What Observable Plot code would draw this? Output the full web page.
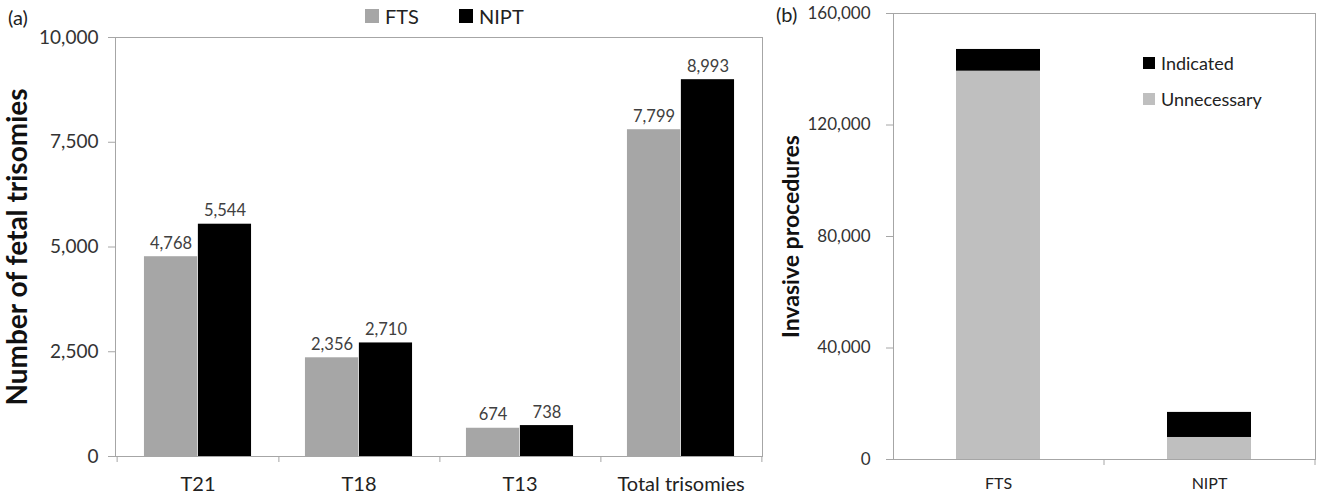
<!DOCTYPE html>
<html><head><meta charset="utf-8">
<script src="https://cdn.jsdelivr.net/npm/d3@7"></script>
<script src="https://cdn.jsdelivr.net/npm/@observablehq/plot@0.6"></script>
<style>
body{margin:0;background:#fff;font-family:Lato,"Open Sans",sans-serif;}
#wrap{position:relative;width:1317px;height:500px;overflow:hidden;background:#fff;}
.panel{position:absolute;top:0;}
.tag{position:absolute;font-size:20px;color:#222;line-height:22px;}
.leg{position:absolute;display:flex;align-items:center;color:#222;white-space:nowrap;}
.sw{display:inline-block;margin-right:6px;}
</style></head><body>
<div id="wrap"></div>
<script>
// ---- Panel (a) data ----
const categories = ["T21", "T18", "T13", "Total trisomies"];
const series = ["FTS", "NIPT"];
const ftsValues = [4768, 2356, 674, 7799];
const niptValues = [5544, 2710, 738, 8993];
const yTicksA = [0, 2500, 5000, 7500, 10000];

// ---- Panel (b) data ----
const groups = ["FTS", "NIPT"];
const types = ["Indicated", "Unnecessary"];
const unnecessary = [139300, 7900];
const indicated = [7799, 8993];
const yTicksB = [0, 40000, 80000, 120000, 160000];

const colorsA = {FTS: "#a6a6a6", NIPT: "#000000"};
const colorsB = {Indicated: "#000000", Unnecessary: "#bfbfbf"};
const fmt = d3.format(",");
const frameColor = "#a6a6a6";

const wrap = document.getElementById("wrap");

// ---------- Panel (a) ----------
const wA = 770, hA = 500, mL = 115, mR = 8, mT = 37, mB = 44;
const B = (wA - mL - mR) / categories.length;
const rowsA = [];
categories.forEach((c, i) => {
  rowsA.push({cat: c, series: "FTS", value: ftsValues[i]});
  rowsA.push({cat: c, series: "NIPT", value: niptValues[i]});
});
const fts = rowsA.filter(d => d.series === "FTS");
const nipt = rowsA.filter(d => d.series === "NIPT");

const plotA = Plot.plot({
  width: wA, height: hA,
  marginLeft: mL, marginRight: mR, marginTop: mT, marginBottom: mB,
  style: {fontFamily: "Lato, 'Open Sans', sans-serif", color: "#333", background: "transparent"},
  x: {domain: categories, padding: 0, label: null},
  y: {domain: [0, 10000], label: null},
  marks: [
    Plot.barY(fts, {x: "cat", y: "value", fill: colorsA.FTS, insetLeft: B / 6, insetRight: B / 2}),
    Plot.barY(nipt, {x: "cat", y: "value", fill: colorsA.NIPT, insetLeft: B / 2, insetRight: B / 6}),
    Plot.text(fts, {x: "cat", y: "value", text: d => fmt(d.value), dx: -B / 6, dy: -8, lineAnchor: "bottom", fontSize: 16.5, fill: "#404040"}),
    Plot.text(nipt, {x: "cat", y: "value", text: d => fmt(d.value), dx: B / 6, dy: -8, lineAnchor: "bottom", fontSize: 16.5, fill: "#404040"}),
    Plot.frame({stroke: frameColor}),
    Plot.axisY({ticks: yTicksA, tickFormat: fmt, tickSize: 7, tickPadding: 10, fontSize: 19, stroke: frameColor, fill: "#333", label: null}),
    Plot.axisX({ticks: categories, tickSize: 0, tickPadding: 20, fontSize: 20, fill: "#222", label: null}),
    Plot.axisX({ticks: categories, tickSize: 6, text: null, dx: B / 2, stroke: frameColor, label: null}),
    Plot.axisX({ticks: [categories[0]], tickSize: 6, text: null, dx: -B / 2, stroke: frameColor, label: null}),
    Plot.text(["Number of fetal trisomies"], {frameAnchor: "left", textAnchor: "middle", rotate: -90, dx: -97, fontSize: 28, fontWeight: "bold", fill: "#111"})
  ]
});
plotA.classList.add("panel");
plotA.style.left = "0px";
wrap.appendChild(plotA);

// ---------- Panel (b) ----------
const wB = 547, hB = 500, mLB = 123, mRB = 2, mTB = 13, mBB = 41;
const rowsB = [];
groups.forEach((g, i) => {
  rowsB.push({group: g, type: "Unnecessary", value: unnecessary[i]});
  rowsB.push({group: g, type: "Indicated", value: indicated[i]});
});
const plotB = Plot.plot({
  width: wB, height: hB,
  marginLeft: mLB, marginRight: mRB, marginTop: mTB, marginBottom: mBB,
  style: {fontFamily: "Lato, 'Open Sans', sans-serif", color: "#333", background: "transparent"},
  x: {domain: groups, paddingInner: 0.6, paddingOuter: 0.3, label: null},
  y: {domain: [0, 160000], label: null},
  color: {domain: types, range: types.map(t => colorsB[t])},
  marks: [
    Plot.barY(rowsB, {x: "group", y: "value", fill: "type", order: ["Unnecessary", "Indicated"]}),
    Plot.frame({stroke: frameColor}),
    Plot.axisY({ticks: yTicksB, tickFormat: fmt, tickSize: 7, tickPadding: 16, fontSize: 17, stroke: frameColor, fill: "#333", label: null}),
    Plot.axisX({ticks: groups, tickSize: 0, tickPadding: 18, fontSize: 16, fill: "#222", label: null}),
    Plot.axisX({ticks: groups, tickSize: 6, text: null, dx: (wB - mLB - mRB) / groups.length / 2, stroke: frameColor, label: null}),
    Plot.text(["Invasive procedures"], {frameAnchor: "left", textAnchor: "middle", rotate: -90, dx: -102, fontSize: 23, fontWeight: "bold", fill: "#111"})
  ]
});
plotB.classList.add("panel");
plotB.style.left = wA + "px";
wrap.appendChild(plotB);

// ---------- Panel tags ----------
function tag(text, left, top) {
  const d = document.createElement("div");
  d.className = "tag"; d.textContent = text;
  d.style.left = left + "px"; d.style.top = top + "px";
  wrap.appendChild(d);
}
tag("(a)", 8, 6);
tag("(b)", 776, 3);

// ---------- Legends ----------
function legendItem(label, color, left, centerY, fontSize, sw) {
  const d = document.createElement("div");
  d.className = "leg";
  d.style.left = left + "px";
  d.style.top = (centerY - fontSize * 0.65) + "px";
  d.style.height = (fontSize * 1.3) + "px";
  d.style.fontSize = fontSize + "px";
  const s = document.createElement("span");
  s.className = "sw";
  s.style.width = sw + "px"; s.style.height = sw + "px"; s.style.background = color;
  d.appendChild(s);
  d.appendChild(document.createTextNode(label));
  wrap.appendChild(d);
}
const legAX = [365, 459];
series.forEach((s, i) => legendItem(s, colorsA[s], legAX[i], 16, 20, 14));
const legBY = [63, 99];
types.forEach((t, i) => legendItem(t, colorsB[t], 1143, legBY[i], 18, 12));
</script>
</body></html>
